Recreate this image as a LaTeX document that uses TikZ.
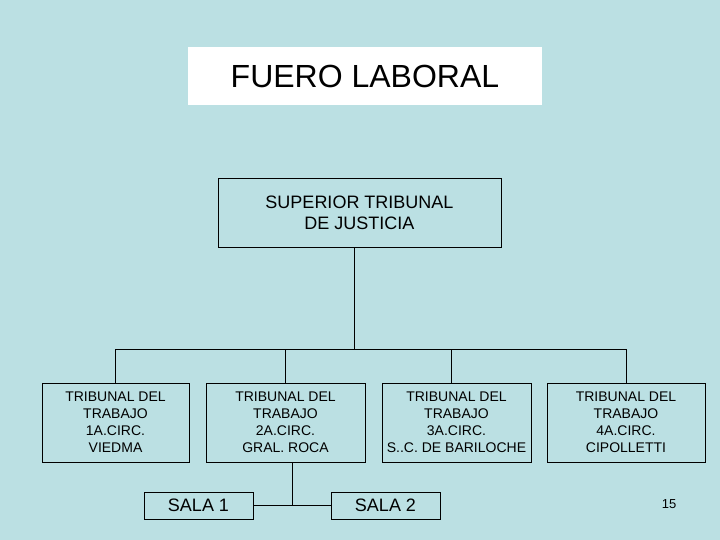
\documentclass[tikz,border=0pt]{standalone}
\usepackage{fontspec}
\setmainfont{Liberation Sans}
\usepackage{tikz}
\usetikzlibrary{positioning}
\definecolor{slidebg}{RGB}{187,224,227}

\begin{document}
\begin{tikzpicture}[x=1pt,y=1pt,
titlenode/.style={rectangle, fill=white, minimum width=354pt, minimum height=58pt, font=\fontsize{32}{38}\selectfont},
mainnode/.style={rectangle, draw=black, line width=1pt, minimum width=283pt, minimum height=68pt, align=center, font=\fontsize{18}{21}\selectfont},
tribnode/.style={rectangle, draw=black, line width=1pt, minimum height=79pt, inner sep=2pt, align=center, font=\fontsize{14}{17}\selectfont},
salanode/.style={rectangle, draw=black, line width=1pt, minimum width=109pt, minimum height=27pt, font=\fontsize{18}{21}\selectfont},
]
\fill[slidebg] (0,0) rectangle (720,-540);
\useasboundingbox (0,0) rectangle (720,-540);

%Nodes
\node[titlenode]                (titulo)  at (365,-76)      {FUERO LABORAL};
\node[mainnode]                 (stj)     at (359.5,-213)   {SUPERIOR TRIBUNAL\\DE JUSTICIA};
\node[tribnode, minimum width=147pt] (trib1) at (115.5,-422.5) {TRIBUNAL DEL\\TRABAJO\\1A.CIRC.\\VIEDMA};
\node[tribnode, minimum width=159pt] (trib2) [right=16pt of trib1] {TRIBUNAL DEL\\TRABAJO\\2A.CIRC.\\GRAL. ROCA};
\node[tribnode, minimum width=149pt] (trib3) [right=16pt of trib2] {TRIBUNAL DEL\\TRABAJO\\3A.CIRC.\\S..C. DE BARILOCHE};
\node[tribnode, minimum width=158pt] (trib4) [right=15pt of trib3] {TRIBUNAL DEL\\TRABAJO\\4A.CIRC.\\CIPOLLETTI};
\node[salanode]                 (sala1)   at (198.5,-505.5) {SALA 1};
\node[salanode]                 (sala2)   [right=77pt of sala1] {SALA 2};
\node[font=\fontsize{13}{15}\selectfont] (pagina) at (669,-504) {15};
\coordinate (bus) at (354,-349);

%Lines
\draw[line width=1pt] ([xshift=-5pt]stj.south) -- ([xshift=-5pt]stj.south |- bus);
\draw[line width=1pt] (trib1.north) -- (trib1.north |- bus) -- (trib4.north |- bus) -- (trib4.north);
\draw[line width=1pt] (trib2.north) -- (trib2.north |- bus);
\draw[line width=1pt] ([xshift=-5pt]trib3.north) -- ([xshift=-5pt]trib3.north |- bus);
\draw[line width=1pt] (sala1.east) -- coordinate[midway] (union) (sala2.west);
\draw[line width=1pt] (union) -- (union |- trib2.south);
\end{tikzpicture}
\end{document}
